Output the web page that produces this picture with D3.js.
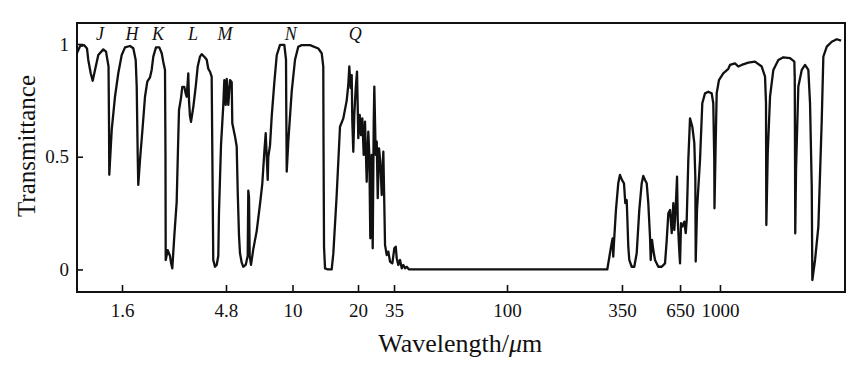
<!DOCTYPE html>
<html>
<head>
<meta charset="utf-8">
<script src="https://cdn.jsdelivr.net/npm/d3@7"></script>
<style>
  body { margin: 0; background: #fff; }
  svg text { font-family: "Liberation Serif", "DejaVu Serif", serif; fill: #111; }
</style>
</head>
<body>
<div id="chart"></div>
<script>
// wavelength in um
const wavelength = [
  1.000, 1.032, 1.076, 1.110, 1.125, 1.154, 1.178, 1.207, 1.249, 1.316,
  1.354, 1.390, 1.397, 1.401, 1.437, 1.487, 1.539, 1.595, 1.652, 1.741,
  1.803, 1.849, 1.869, 1.888, 1.900, 1.935, 1.991, 2.040, 2.090, 2.151,
  2.189, 2.227, 2.291, 2.373, 2.434, 2.475, 2.520, 2.533, 2.539, 2.593,
  2.657, 2.685, 2.722, 2.781, 2.851, 2.900, 2.922, 2.984, 3.025, 3.090,
  3.136, 3.169, 3.223, 3.247, 3.281, 3.317, 3.398, 3.485, 3.560, 3.648,
  3.714, 3.845, 3.915, 3.981, 4.053, 4.126, 4.152, 4.196, 4.273, 4.350,
  4.425, 4.457, 4.553, 4.666, 4.715, 4.785, 4.837, 4.923, 5.017, 5.112,
  5.146, 5.302, 5.402, 5.461, 5.541, 5.602, 5.709, 5.810, 5.965, 6.099,
  6.140, 6.188, 6.235, 6.325, 6.488, 6.736, 6.986, 7.165, 7.326, 7.440,
  7.507, 7.607, 7.658, 7.802, 7.951, 8.184, 8.403, 8.714, 9.137, 9.309,
  9.330, 9.382, 9.550, 9.914, 10.27, 10.63, 11.02, 12.04, 13.14, 13.62,
  13.85, 13.88, 13.96, 14.11, 14.56, 15.14, 15.40, 15.96, 16.53, 17.12,
  17.75, 18.05, 18.24, 18.51, 18.71, 18.83, 19.03, 19.23, 19.52, 19.79,
  19.93, 20.09, 20.54, 20.96, 21.38, 21.85, 22.30, 22.89, 23.47, 23.84,
  24.21, 24.74, 25.13, 25.53, 25.77, 26.33, 26.75, 27.17, 27.72, 28.29,
  28.91, 29.64, 30.10, 30.43, 31.25, 32.03, 32.89, 34.09, 35.10, 35.56,
  35.89, 36.43, 37.01, 37.60, 38.16, 38.77, 39.38, 40.24, 298.2, 307.1,
  312.8, 316.2, 318.3, 320.7, 327.8, 336.1, 342.3, 349.9, 357.6, 362.6,
  368.0, 370.4, 374.4, 378.4, 388.2, 399.1, 409.5, 421.0, 431.9, 439.3,
  447.4, 455.6, 463.4, 471.9, 475.5, 482.2, 488.9, 497.8, 515.7, 534.8,
  553.9, 564.1, 573.8, 584.2, 594.9, 605.2, 611.7, 621.0, 629.6, 634.3,
  643.3, 650.0, 657.0, 666.3, 680.8, 691.2, 698.6, 710.8, 723.9, 742.1,
  758.3, 766.5, 769.8, 780.7, 806.3, 826.5, 850.9, 881.7, 914.5, 930.4,
  940.4, 942.5, 954.8, 965.2, 989.3, 1036, 1094, 1114, 1175, 1218,
  1263, 1357, 1458, 1567, 1624, 1641, 1647, 1672, 1714, 1776,
  1874, 1978, 2126, 2226, 2236, 2243, 2248, 2268, 2324, 2411,
  2498, 2588, 2636, 2685, 2702, 2782, 2883, 2990, 3042, 3156,
  3330, 3515, 3681
];
const transmittance = [
  0.96, 0.99, 0.995, 0.98, 0.929, 0.87, 0.837, 0.885, 0.951, 0.976,
  0.966, 0.90, 0.65, 0.42, 0.619, 0.766, 0.87, 0.951, 0.985, 0.991,
  0.981, 0.929, 0.811, 0.515, 0.375, 0.486, 0.633, 0.766, 0.833, 0.852,
  0.885, 0.944, 0.985, 0.985, 0.959, 0.92, 0.885, 0.5, 0.042, 0.086,
  0.06, 0.03, 0.005, 0.15, 0.30, 0.59, 0.707, 0.76, 0.81, 0.81,
  0.78, 0.766, 0.87, 0.75, 0.68, 0.655, 0.72, 0.81, 0.90, 0.944,
  0.955, 0.94, 0.93, 0.89, 0.877, 0.855, 0.55, 0.042, 0.012, 0.02,
  0.06, 0.25, 0.55, 0.73, 0.84, 0.73, 0.845, 0.73, 0.84, 0.83,
  0.648, 0.59, 0.545, 0.35, 0.15, 0.072, 0.03, 0.012, 0.02, 0.06,
  0.35, 0.32, 0.06, 0.02, 0.09, 0.17, 0.29, 0.38, 0.52, 0.604,
  0.52, 0.397, 0.50, 0.55, 0.68, 0.83, 0.95, 0.996, 0.996, 0.93,
  0.75, 0.434, 0.57, 0.79, 0.93, 0.988, 0.995, 0.995, 0.98, 0.959,
  0.90, 0.6, 0.1, 0.005, 0, 0, 0.07, 0.33, 0.633, 0.67,
  0.75, 0.82, 0.90, 0.804, 0.862, 0.655, 0.522, 0.685, 0.804, 0.877,
  0.73, 0.582, 0.685, 0.596, 0.67, 0.508, 0.655, 0.389, 0.611, 0.508,
  0.138, 0.508, 0.094, 0.655, 0.811, 0.508, 0.567, 0.316, 0.537, 0.478,
  0.33, 0.522, 0.286, 0.109, 0.064, 0.079, 0.035, 0.027, 0.094, 0.101,
  0.05, 0.02, 0.042, 0.005, 0.02, 0.005, 0.012, 0, 0, 0.072,
  0.116, 0.138, 0.057, 0.116, 0.264, 0.382, 0.419, 0.397, 0.382, 0.294,
  0.308, 0.234, 0.101, 0.042, 0.012, 0.012, 0.072, 0.264, 0.382, 0.415,
  0.397, 0.382, 0.294, 0.145, 0.042, 0.131, 0.086, 0.042, 0.012, 0.012,
  0.027, 0.131, 0.249, 0.264, 0.161, 0.294, 0.175, 0.278, 0.412, 0.22,
  0.101, 0.027, 0.205, 0.19, 0.212, 0.161, 0.22, 0.486, 0.67, 0.633,
  0.56, 0.41, 0.035, 0.264, 0.486, 0.737, 0.781, 0.788, 0.781, 0.737,
  0.486, 0.271, 0.56, 0.781, 0.84, 0.87, 0.89, 0.907, 0.914, 0.90,
  0.907, 0.917, 0.922, 0.90, 0.855, 0.737, 0.197, 0.515, 0.766, 0.885,
  0.929, 0.941, 0.937, 0.922, 0.85, 0.5, 0.16, 0.45, 0.811, 0.885,
  0.907, 0.885, 0.737, 0.367, -0.047, 0.042, 0.19, 0.663, 0.944, 0.988,
  1.01, 1.021, 1.015
];

// tick labels on the axes
const xTicks = [1.6, 4.8, 10, 20, 35, 100, 350, 650, 1000];
const yTicks = [0, 0.5, 1];

// atmospheric windows written along the top
const bandNames = ["J", "H", "K", "L", "M", "N", "Q"];
const bandCenters = [1.27, 1.78, 2.34, 3.39, 4.75, 9.8, 19.4];

const width = 857, height = 370;
const margin = { top: 23, right: 12, bottom: 78, left: 77 };
const innerW = width - margin.left - margin.right;
const innerH = height - margin.top - margin.bottom;

const svg = d3.select("#chart").append("svg")
  .attr("width", width)
  .attr("height", height);

const g = svg.append("g")
  .attr("transform", "translate(" + margin.left + "," + margin.top + ")");

// the printed axis is only roughly logarithmic, so use a piecewise log scale
const xDomain = [1].concat(xTicks, [3840]);
const xFrac = [0, 0.0586, 0.194, 0.2806, 0.3659, 0.4128, 0.5599, 0.7096, 0.7852, 0.8372, 1];
const x = d3.scaleLog()
  .domain(xDomain)
  .range(xFrac.map(f => f * innerW));

const y = d3.scaleLinear()
  .domain([-0.1, 1.093])
  .range([innerH, 0]);

const data = wavelength.map((w, i) => ({ w: w, t: transmittance[i] }));

g.append("clipPath").attr("id", "clip")
  .append("rect").attr("width", innerW).attr("height", innerH);

// curve
g.append("path")
  .datum(data)
  .attr("clip-path", "url(#clip)")
  .attr("fill", "none")
  .attr("stroke", "#111")
  .attr("stroke-width", 2.3)
  .attr("stroke-linejoin", "round")
  .attr("d", d3.line()
    .x(d => x(d.w))
    .y(d => y(d.t)));

// axes, ticks point inwards
const xAxis = g.append("g")
  .attr("transform", "translate(0," + innerH + ")")
  .call(d3.axisBottom(x).tickValues(xTicks).tickSize(-7).tickPadding(12)
    .tickFormat(d3.format("")));
const yAxis = g.append("g")
  .call(d3.axisLeft(y).tickValues(yTicks).tickSize(-6).tickPadding(8)
    .tickFormat(d => d));

[xAxis, yAxis].forEach(a => {
  a.select(".domain").remove();
  a.selectAll("line").attr("stroke", "#111").attr("stroke-width", 1.6);
  a.selectAll("text")
    .attr("font-family", "Liberation Serif, serif")
    .attr("font-size", "19px")
    .attr("fill", "#111");
});

// frame
g.append("rect")
  .attr("width", innerW)
  .attr("height", innerH)
  .attr("fill", "none")
  .attr("stroke", "#111")
  .attr("stroke-width", 2);

// band letters
g.selectAll(".band")
  .data(bandNames)
  .enter()
  .append("text")
  .attr("class", "band")
  .attr("x", (d, i) => x(bandCenters[i]))
  .attr("y", 17)
  .attr("text-anchor", "middle")
  .attr("font-style", "italic")
  .attr("font-size", "18px")
  .text(d => d);

// axis titles
const xt = svg.append("text")
  .attr("x", margin.left + innerW * 0.499)
  .attr("y", 352)
  .attr("text-anchor", "middle")
  .attr("font-size", "26px");
xt.append("tspan").text("Wavelength/");
xt.append("tspan").attr("font-style", "italic").text("μ");
xt.append("tspan").text("m");

svg.append("text")
  .attr("transform", "translate(35," + (margin.top + 123) + ") rotate(-90)")
  .attr("text-anchor", "middle")
  .attr("font-size", "25px")
  .text("Transmittance");
</script>
</body>
</html>
